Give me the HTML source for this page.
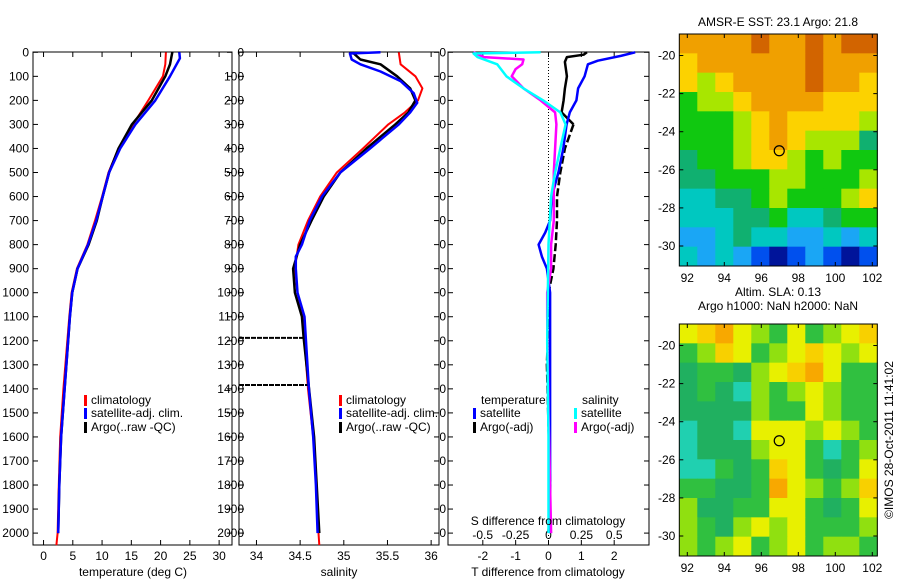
<!DOCTYPE html>
<html><head><meta charset="utf-8"><style>
html,body{margin:0;padding:0;background:#fff;}
svg{display:block;font-family:"Liberation Sans",sans-serif;}
text{font-size:12px;fill:#000;}
</style></head>
<body>
<svg id="fig" width="900" height="580" viewBox="0 0 900 580">
<rect x="0" y="0" width="900" height="580" fill="#fff"/>
<g id="g"></g>
</svg>
<script>
// ---- depth / profile data ----
const tClimDepth = [0,50,100,200,300,400,500,600,700,800,900,1000,1100,1400,1600,1800,2000,2050];
const tClimVal   = [20.9,20.8,20.4,17.9,15.3,12.8,11.1,10.0,8.8,7.5,5.7,4.8,4.4,3.4,2.85,2.6,2.4,2.2];
const tSatDepth  = [0,25,100,200,300,400,500,600,700,800,900,1000,1100,1400,1600,1800,2000];
const tSatVal    = [23.2,23.3,21.6,19.1,15.7,13.1,11.2,10.1,9.0,7.6,5.8,4.9,4.5,3.6,3.0,2.7,2.5];
const tArgoDepth = [0,50,100,200,300,400,500,600,700,800,900,1000,1100,1400,1600,1800,2000];
const tArgoVal   = [22.0,21.6,20.8,18.5,15.1,12.8,11.2,10.1,9.1,7.7,5.8,4.9,4.5,3.6,3.0,2.7,2.5];

const sClimDepth = [0,50,100,150,200,250,300,400,500,600,700,800,850,900,1000,1100,1400,1600,1800,2000,2050];
const sClimVal   = [35.63,35.65,35.82,35.90,35.85,35.70,35.51,35.22,34.92,34.73,34.59,34.48,34.46,34.44,34.47,34.53,34.59,34.65,34.69,34.71,34.72];
const sSatDepth  = [0,5,30,50,80,120,170,210,250,300,400,500,600,700,800,850,900,1000,1100,1400,1600,1800,2000];
const sSatVal    = [35.42,35.07,35.09,35.19,35.42,35.65,35.80,35.84,35.76,35.63,35.30,34.96,34.75,34.61,34.52,34.45,34.45,34.47,34.55,34.60,34.65,34.68,34.70];
const sArgoDepth = [0,30,50,100,150,200,250,300,400,500,600,700,800,900,1000,1100,1185,1600,1800,2000];
const sArgoVal   = [35.10,35.19,35.42,35.61,35.76,35.82,35.74,35.59,35.26,34.96,34.77,34.63,34.50,34.42,34.44,34.52,34.54,34.66,34.69,34.72];
const sDropDepth = [1188,1384];
const sDropVal   = [34.54,34.61];

const dTSatDepth  = [0,15,35,50,100,150,200,250,300,400,500,600,700,750,800,850,900,1000,1500,2000];
const dTSatVal    = [2.64,2.2,1.5,1.2,1.1,0.9,0.85,0.65,0.55,0.45,0.3,0.1,0.05,-0.1,-0.3,-0.2,-0.05,0.05,0.05,0.05];
const dTArgoDepth = [0,10,20,40,100,150,200,250,300,400,500,600,700,800,900,1000,1100,1300,1800,2000];
const dTArgoVal   = [1.17,1.07,0.56,0.5,0.56,0.5,0.46,0.4,0.76,0.5,0.36,0.26,0.26,0.22,0.15,0.0,0.0,-0.05,0.05,0.0];
const dSSatDepth  = [0,5,20,50,100,150,200,250,300,400,500,600,700,800,1200,1600,2000];
const dSSatVal    = [-0.06,-0.57,-0.54,-0.39,-0.32,-0.19,-0.04,0.09,0.13,0.09,0.05,0.02,0.01,0.0,-0.01,0.0,0.0];
const dSArgoDepth = [0,20,30,50,70,100,150,200,250,300,400,500,600,700,800,900,1000,1100,1500,2000];
const dSArgoVal   = [-0.57,-0.49,-0.19,-0.2,-0.25,-0.28,-0.19,-0.06,0.05,0.06,0.05,0.04,0.04,0.04,0.02,0.02,-0.01,-0.01,0.0,0.02];

const depthTicks = [0,100,200,300,400,500,600,700,800,900,1000,1100,1200,1300,1400,1500,1600,1700,1800,1900,2000];
const tTicks = [0,5,10,15,20,25,30];
const sTicks = [34,34.5,35,35.5,36];
const sTickLabels = ["34","34.5","35","35.5","36"];
const dTTicks = [-2,-1,0,1,2];
const dSTicks = [-0.5,-0.25,0,0.25,0.5];
const dSTickLabels = ["-0.5","-0.25","0","0.25","0.5"];

// ---- maps ----
const sstGrid = [
"88889889899",
"78888889888",
"76788889887",
"56678888777",
"55567877776",
"55567876664",
"45567765655",
"44555665556",
"33445655567",
"33344533455",
"22343322323",
"32321012101"];
const slaGrid = [
"45643242345",
"23542345434",
"12213456422",
"12103234322",
"11113224322",
"01104443432",
"01113442023",
"00212542124",
"22112643235",
"31122442124",
"32134342223",
"32342342332"];
const lonTicks = [92,94,96,98,100,102];
const latTicks = [-20,-22,-24,-26,-28,-30];
const floatLon = [96.97];
const floatLat = [-25.0];

const SVGNS="http://www.w3.org/2000/svg";
const G=document.getElementById('g');
function mk(tag,attrs,parent){const e=document.createElementNS(SVGNS,tag);for(const k in attrs)e.setAttribute(k,attrs[k]);(parent||G).appendChild(e);return e;}
function txt(s,x,y,anchor,parent){const e=mk('text',{x:x,y:y,'text-anchor':anchor||'middle'},parent);e.textContent=s;return e;}

const Y0=52.3, YS=0.2404;
function yD(d){return Y0+d*YS;}
const TOP=52, BOT=545;

function panel(name,x0,x1,xmin,xmax){
  return {name:name,x0:x0,x1:x1,sx:function(v){return x0+(v-xmin)/(xmax-xmin)*(x1-x0);}};
}
const P1=panel('temperature',33,232,-1.8,32.2);
const P2=panel('salinity',239,439,33.8,36.09);
const P3=panel('difference',448,649,-3.06,3.06);
const sxS3=function(v){return 448+(v+0.764)/(1.528)*(649-448);};

function frame(p){
  const r=mk('rect',{x:p.x0,y:TOP,width:p.x1-p.x0,height:BOT-TOP,fill:'none',stroke:'#000','stroke-width':1});
  
  
  depthTicks.forEach(function(d){
    const y=yD(d);
    const t1=mk('line',{x1:p.x0,x2:p.x0+5,y1:y,y2:y,stroke:'#000'});
    
    
    const t2=mk('line',{x1:p.x1,x2:p.x1-5,y1:y,y2:y,stroke:'#000'});
    
    
  });
}
function depthLabels(rightEdge,clipX){
  let parent=G;
  if(clipX){
    parent=mk('g',{'clip-path':'url(#clip3)'});
    
    
  }
  depthTicks.forEach(function(d){
    const t=txt(String(d),rightEdge,yD(d)+4,'end',parent);
    
    
  });
}
function xTicks(p,ticks,labels,sx,labelY){
  ticks.forEach(function(v,i){
    const x=sx(v);
    const a=mk('line',{x1:x,x2:x,y1:BOT,y2:BOT-5,stroke:'#000'});
    
    
    const b=mk('line',{x1:x,x2:x,y1:TOP,y2:TOP+5,stroke:'#000'});
    
    
    const t=txt(labels?labels[i]:String(v),x,labelY,'middle');
    
    
  });
}
function line(depths,vals,sx,color,w,name,dash){
  const pts=depths.map(function(d,i){return sx(vals[i]).toFixed(1)+','+yD(d).toFixed(1);}).join(' ');
  const attrs={points:pts,fill:'none',stroke:color,'stroke-width':w,'stroke-linejoin':'round'};
  if(dash)attrs['stroke-dasharray']=dash;
  const e=mk('polyline',attrs);
  
  
}
function legendEntry(x,y,color,label){
  const r=mk('rect',{x:x,y:y-9,width:3,height:11,fill:color});
  
  
  const t=txt(label,x+7,y,'start');
  
  
}

const defs=mk('defs',{});
const cp=mk('clipPath',{id:'clip3'},defs);
mk('rect',{x:440,y:0,width:8,height:580},cp);

// Panel 1
frame(P1);
depthLabels(29);
xTicks(P1,tTicks,null,P1.sx,560);
line(tClimDepth,tClimVal,P1.sx,'#ff0000',2,'temperature-climatology-line');
line(tArgoDepth,tArgoVal,P1.sx,'#000000',2.5,'temperature-argo-line');
line(tSatDepth,tSatVal,P1.sx,'#0000ff',2.5,'temperature-satellite-line');
let lab=txt('temperature (deg C)',133,576,'middle');


legendEntry(84,404,'#ff0000','climatology');
legendEntry(84,417,'#0000ff','satellite-adj. clim.');
legendEntry(84,431,'#000000','Argo(..raw -QC)');

// Panel 2
frame(P2);
xTicks(P2,sTicks,sTickLabels,P2.sx,560);
line(sClimDepth,sClimVal,P2.sx,'#ff0000',2,'salinity-climatology-line');
line(sArgoDepth,sArgoVal,P2.sx,'#000000',2.5,'salinity-argo-line');
sDropDepth.forEach(function(d,i){
  const dl=mk('line',{x1:P2.x0,x2:P2.sx(sDropVal[i]),y1:yD(d),y2:yD(d),stroke:'#000','stroke-width':2,'stroke-dasharray':'5,1'});
  
  
});
line(sSatDepth,sSatVal,P2.sx,'#0000ff',2.5,'salinity-satellite-line');
depthLabels(244);
lab=txt('salinity',339,576,'middle');


legendEntry(339,404,'#ff0000','climatology');
legendEntry(339,417,'#0000ff','satellite-adj. clim.');
legendEntry(339,431,'#000000','Argo(..raw -QC)');

// Panel 3
frame(P3);
depthLabels(446,true);
xTicks(P3,dTTicks,null,P3.sx,560);
dSTicks.forEach(function(v,i){
  const t=txt(dSTickLabels[i],sxS3(v),539,'middle');
  
  
});
const zl=mk('line',{x1:P3.sx(0),x2:P3.sx(0),y1:TOP,y2:BOT,stroke:'#000','stroke-dasharray':'1,2'});


line(dTArgoDepth.slice(0,9),dTArgoVal.slice(0,9),P3.sx,'#000000',2.5,'t-diff-argo-line-upper');
line(dTArgoDepth.slice(8),dTArgoVal.slice(8),P3.sx,'#000000',2.5,'t-diff-argo-line-lower','8,3');
line(dTSatDepth,dTSatVal,P3.sx,'#0000ff',2.5,'t-diff-satellite-line');
line(dSArgoDepth,dSArgoVal,sxS3,'#ff00ff',2.5,'s-diff-argo-line');
line(dSSatDepth,dSSatVal,sxS3,'#00ffff',2.5,'s-diff-satellite-line');
lab=txt('S difference from climatology',548,525,'middle');


lab=txt('T difference from climatology',548,576,'middle');


lab=txt('temperature',481,404,'start');


lab=txt('salinity',582,404,'start');


legendEntry(473,417,'#0000ff','satellite');
legendEntry(473,431,'#000000','Argo(-adj)');
legendEntry(574,417,'#00ffff','satellite');
legendEntry(574,431,'#ff00ff','Argo(-adj)');

// ---- maps ----
const sstPal=['#00149a','#0050ee','#1aa6f5','#00c8c0','#10b070','#10c810','#a8e600','#fcd200','#f0a000','#d26400'];
const slaPal=['#20d0b0','#20b060','#30c040','#90e010','#e8f000','#f8d000','#f8a800'];
const MX0=679.3, MX1=877.3;
function lonX(lon){return 687.3+(lon-92)*18.5;}
function drawMap(name,grid,pal,y0,y1,titleLines){
  const nr=grid.length,nc=grid[0].length;
  const cw=(MX1-MX0)/nc,ch=(y1-y0)/nr;
  grid.forEach(function(row,r){
    for(let c=0;c<nc;c++){
      const cell=mk('rect',{x:MX0+c*cw,y:y0+r*ch,width:cw+0.5,height:ch+0.5,fill:pal[+row[c]]});
      
      
    }
  });
  const b=mk('rect',{x:MX0,y:y0,width:MX1-MX0,height:y1-y0,fill:'none',stroke:'#000'});
  
  
  const latY=function(lat){return y0+(-18.87-lat)/(31.05-18.87)*(y1-y0);};
  lonTicks.forEach(function(l){
    const x=lonX(l);
    const a=mk('line',{x1:x,x2:x,y1:y1,y2:y1-4,stroke:'#000'});
    
    
    const a2=mk('line',{x1:x,x2:x,y1:y0,y2:y0+4,stroke:'#000'});
    
    
    const t=txt(String(l),x,y1+16,'middle');
    
    
  });
  latTicks.forEach(function(l){
    const y=latY(l);
    const a=mk('line',{x1:MX0,x2:MX0+4,y1:y,y2:y,stroke:'#000'});
    
    
    const a2=mk('line',{x1:MX1,x2:MX1-4,y1:y,y2:y,stroke:'#000'});
    
    
    const t=txt(String(l),MX0-4,y+4,'end');
    
    
  });
  const c=mk('circle',{cx:lonX(floatLon[0]),cy:latY(floatLat[0]),r:5,fill:'none',stroke:'#000','stroke-width':1.2});
  
  
  titleLines.forEach(function(s,i){
    const t=txt(s,778,titleLines.length===1?26:y0-28+i*14,'middle');
    
    
  });
}
drawMap('sst-map',sstGrid,sstPal,34,266,['AMSR-E SST: 23.1 Argo: 21.8']);
drawMap('sla-map',slaGrid,slaPal,324,556,['Altim. SLA: 0.13','Argo h1000: NaN h2000: NaN']);
const cr=txt('©IMOS 28-Oct-2011 11:41:02',0,0,'middle');
cr.setAttribute('transform','translate(893,440) rotate(-90)');


</script>
</body></html>
